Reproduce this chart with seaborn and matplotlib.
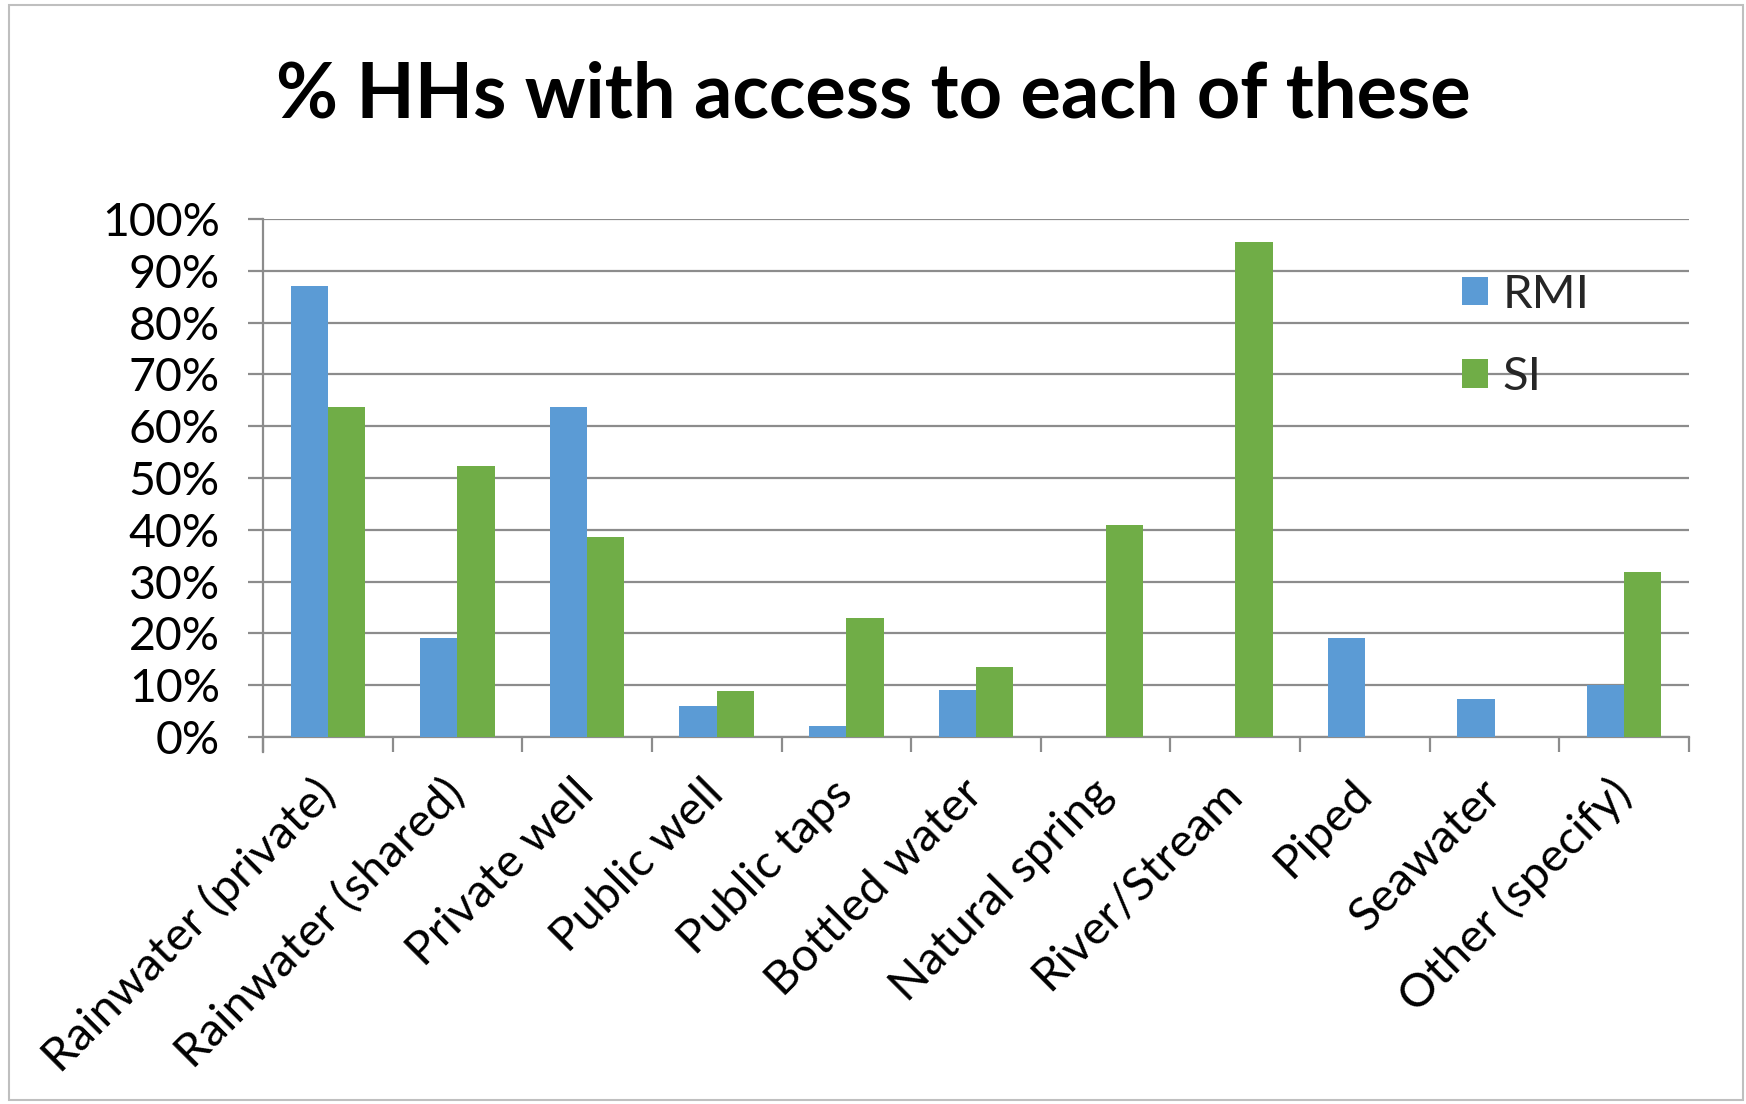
import matplotlib
matplotlib.use("Agg")
import matplotlib.pyplot as plt
import seaborn as sns
import pandas as pd
from matplotlib.patches import Rectangle, Patch
from matplotlib.ticker import FixedLocator, PercentFormatter

categories = ["Rainwater (private)", "Rainwater (shared)", "Private well", "Public well",
              "Public taps", "Bottled water", "Natural spring", "River/Stream", "Piped",
              "Seawater", "Other (specify)"]
rmi = [87.0, 19.1, 63.7, 6.0, 2.2, 9.0, 0.0, 0.0, 19.1, 7.3, 10.1]
si = [63.7, 52.3, 38.7, 8.8, 23.0, 13.5, 40.9, 95.5, 0.0, 0.0, 31.8]
series = ["RMI", "SI"]
title = "% HHs with access to each of these"

colors = {"RMI": "#5B9BD5", "SI": "#70AD47"}
grid_c = "#8C8C8C"

df = pd.DataFrame({
    "cat": categories * 2,
    "val": rmi + si,
    "series": ["RMI"] * len(categories) + ["SI"] * len(categories),
})

sns.set_theme(style="white")
plt.rcParams["font.family"] = ["Lato", "DejaVu Sans"]

fig = plt.figure(figsize=(17.46, 11.04), dpi=100)
ax = fig.add_axes([263 / 1746, 1 - 737 / 1104, (1689 - 263) / 1746, (737 - 219) / 1104])

sns.barplot(data=df, x="cat", y="val", hue="series", order=categories, hue_order=series,
            palette=colors, width=0.575, saturation=1, ax=ax, legend=False, zorder=3,
            linewidth=0)

ax.set_xlim(-0.5, len(categories) - 0.5)
ax.set_ylim(0, 100)
ax.yaxis.set_major_locator(FixedLocator(list(range(0, 101, 10))))
ax.yaxis.set_major_formatter(PercentFormatter(decimals=0))
ax.set_xlabel("")
ax.set_ylabel("")

ax.grid(axis="y", color=grid_c, linewidth=1.6, zorder=0)
ax.grid(axis="x", visible=False)
for s in ["top", "right"]:
    ax.spines[s].set_visible(False)
for s in ["left", "bottom"]:
    ax.spines[s].set_color(grid_c)
    ax.spines[s].set_linewidth(1.6)
ax.spines["left"].set_bounds(-2.9, 100)

ax.tick_params(axis="y", which="major", length=11, width=1.6, color=grid_c, direction="out",
               pad=20, labelsize=33.5, labelcolor="black", left=True)
ax.xaxis.set_minor_locator(FixedLocator([i - 0.5 for i in range(len(categories) + 1)]))
ax.tick_params(axis="x", which="minor", length=11, width=1.6, color=grid_c, direction="out", bottom=True)
ax.tick_params(axis="x", which="major", length=0, pad=36, labelsize=34, labelcolor="black")
for lab in ax.get_xticklabels():
    lab.set_rotation(45)
    lab.set_ha("right")
    lab.set_va("center")
    lab.set_rotation_mode("anchor")

handles = [Patch(facecolor=colors[s], edgecolor="none", label=s) for s in series]
fig.legend(handles=handles, loc="center left", bbox_to_anchor=(1462 / 1746, 1 - 336 / 1104),
           frameon=False, fontsize=34, handlelength=0.55, handleheight=0.55,
           handletextpad=0.3, labelspacing=0.85, borderpad=0, borderaxespad=0)

fig.text(0.5, 1 - 95 / 1104, title, ha="center", va="center", fontsize=54.5,
         fontweight="bold", color="black")

fig.patches.append(Rectangle((9 / 1746, 4 / 1104), (1743 - 9) / 1746, (1099 - 4) / 1104,
                             transform=fig.transFigure, fill=False, edgecolor="#BFBFBF",
                             linewidth=1.5))

fig.savefig("out.png", dpi=100)
